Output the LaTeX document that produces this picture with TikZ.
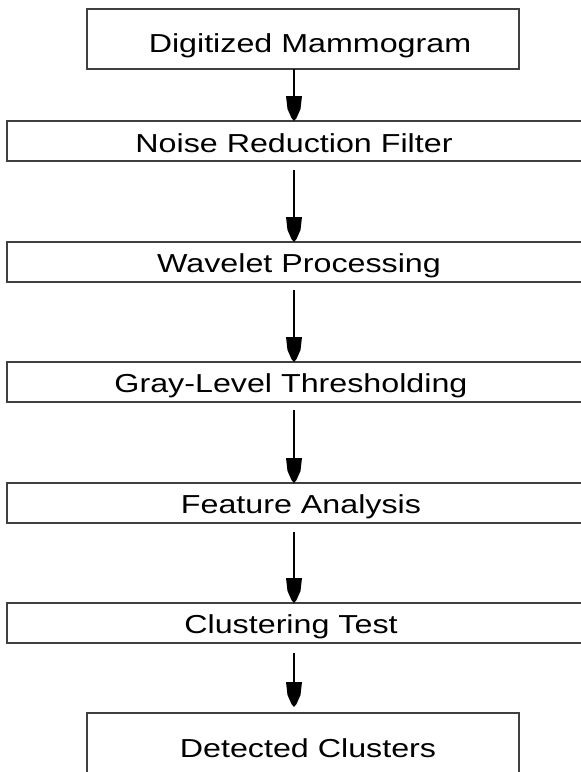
\documentclass[tikz,border=0pt]{standalone}
\usepackage{fontspec}
\setmainfont{Liberation Sans}
\usepackage{graphicx}
\pgfdeclarearrow{
  name = Shield,
  setup code = {
    \pgfarrowssettipend{0pt}
    \pgfarrowssetlineend{-20pt}
    \pgfarrowssetvisualbackend{-25pt}
    \pgfarrowssetbackend{-25pt}
    \pgfarrowshullpoint{0pt}{0pt}
    \pgfarrowshullpoint{-25pt}{8pt}
    \pgfarrowshullpoint{-25pt}{-8pt}
  },
  drawing code = {
    \pgfpathmoveto{\pgfpoint{0pt}{0pt}}
    \pgfpathlineto{\pgfpoint{-3pt}{2.5pt}}
    \pgfpathlineto{\pgfpoint{-12pt}{6.5pt}}
    \pgfpathlineto{\pgfpoint{-25pt}{8pt}}
    \pgfpathlineto{\pgfpoint{-25pt}{-8pt}}
    \pgfpathlineto{\pgfpoint{-12pt}{-6.5pt}}
    \pgfpathlineto{\pgfpoint{-3pt}{-2.5pt}}
    \pgfpathclose
    \pgfusepathqfill
  },
}
\tikzset{
  box/.style={draw=black!75, line width=1.6pt, inner sep=0pt, outer sep=0pt},
  lbl/.style={inner sep=0pt, anchor=base, font=\fontsize{26}{26}\selectfont},
  conn/.style={draw=black, line width=1.3pt, -Shield},
}
\newcommand{\wide}[1]{\scalebox{1.24}[1]{#1}}
\begin{document}
\begin{tikzpicture}[x=1pt,y=-1pt]
\useasboundingbox (0,0) rectangle (581,772);
\fill[white] (0,0) rectangle (581,772);
\clip (0,0) rectangle (581,772);
\coordinate (ax) at (294,0);
% boxes
\node[box, minimum width=432pt, minimum height=60pt] (b1) at (303,39) {};
\node[box, minimum width=590pt, minimum height=40pt] (b2) at (302,141) {};
\node[box, minimum width=590pt, minimum height=40pt] (b3) at (302,262) {};
\node[box, minimum width=590pt, minimum height=40pt] (b4) at (302,382) {};
\node[box, minimum width=590pt, minimum height=40pt] (b5) at (302,503) {};
\node[box, minimum width=590pt, minimum height=40pt] (b6) at (302,623) {};
\node[box, minimum width=432pt, minimum height=100pt] (b7) at (303,763) {};
% labels
\node[lbl] (t1) at (310,52) {\wide{Digitized Mammogram}};
\node[lbl] (t2) at (294,152) {\wide{Noise Reduction Filter}};
\node[lbl] (t3) at (299,272) {\wide{Wavelet Processing}};
\node[lbl] (t4) at (291,392) {\wide{Gray-Level Thresholding}};
\node[lbl] (t5) at (301,513) {\wide{Feature Analysis}};
\node[lbl] (t6) at (291,633) {\wide{Clustering Test}};
\node[lbl] (t7) at (308,757) {\wide{Detected Clusters}};
% connectors
\draw[conn] (b1.south -| ax) -- (b2.north -| ax);
\draw[conn, shorten <=9pt] (b2.south -| ax) -- (b3.north -| ax);
\draw[conn, shorten <=8pt] (b3.south -| ax) -- (b4.north -| ax);
\draw[conn, shorten <=8pt] (b4.south -| ax) -- (b5.north -| ax);
\draw[conn, shorten <=9pt] (b5.south -| ax) -- (b6.north -| ax);
\draw[conn, shorten <=10pt, shorten >=6pt] (b6.south -| ax) -- (b7.north -| ax);
\end{tikzpicture}
\end{document}
